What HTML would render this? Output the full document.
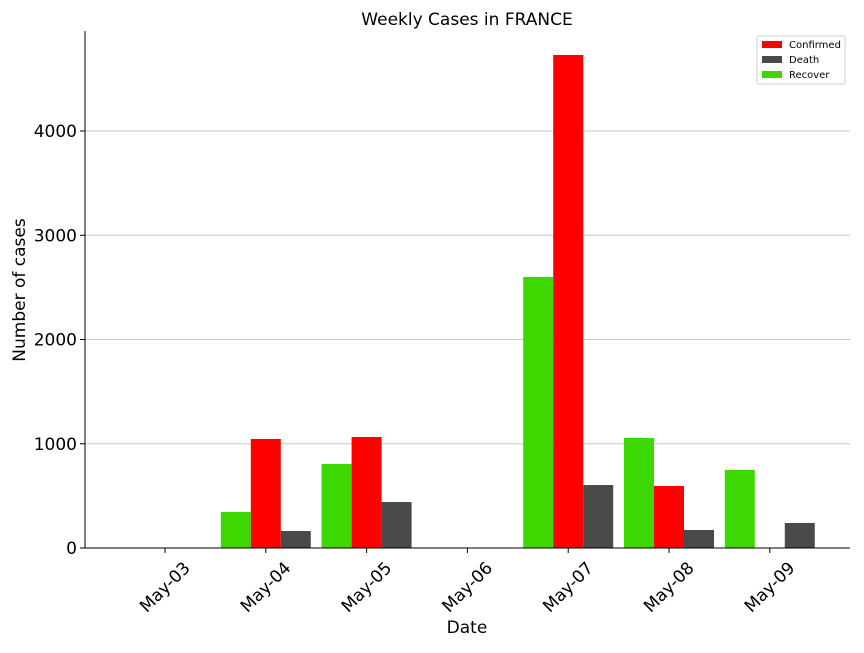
<!DOCTYPE html>
<html><head><meta charset="utf-8"><style>
body{margin:0;background:#fff;font-family:"Liberation Sans","DejaVu Sans",sans-serif;}
svg text{font-family:"DejaVu Sans","Liberation Sans",sans-serif;}
</style></head><body>
<svg id="chart" width="864" height="648">
<g id="grid"></g><g id="bars"></g><g id="axes"></g>
<text x="467" y="25" font-size="17" text-anchor="middle">Weekly Cases in FRANCE</text>
<text x="467" y="633" font-size="17" text-anchor="middle">Date</text>
<text x="25" y="290" font-size="17" text-anchor="middle" transform="rotate(-90 25 290)">Number of cases</text>
<g>
<rect x="757" y="36" width="88" height="48" fill="#fff" stroke="#ccc" rx="2"/>
<rect x="762" y="41" width="20" height="7" fill="#ff0000"/>
<text x="789" y="48" font-size="10">Confirmed</text>
<rect x="762" y="56" width="20" height="7" fill="#4a4a4a"/>
<text x="789" y="63" font-size="10">Death</text>
<rect x="762" y="71" width="20" height="7" fill="#3dd800"/>
<text x="789" y="78" font-size="10">Recover</text>
</g>
</svg>
<script>
const categories=["May-03","May-04","May-05","May-06","May-07","May-08","May-09"];
const recovered=[0,345,806,0,2600,1055,748];
const confirmed=[0,1046,1065,0,4729,595,0];
const deaths=[0,163,441,0,604,173,240];
const yTicks=[0,1000,2000,3000,4000];
const NS="http://www.w3.org/2000/svg";
const L=85,R=850,T=31,B=548;
const y=v=>B-v*(B-131)/4000;
const x=i=>165+i*100.8;
const bw=30;
function mk(tag,attrs,parent){const e=document.createElementNS(NS,tag);for(const k in attrs)e.setAttribute(k,attrs[k]);document.getElementById(parent).appendChild(e);return e;}
yTicks.forEach(t=>{
 if(t>0){const g=mk("line",{x1:L,x2:R,y1:y(t),y2:y(t),stroke:"#c8c8c8","stroke-width":1},"grid");
 
 }
 const tk=mk("line",{x1:L-5,x2:L,y1:y(t),y2:y(t),stroke:"#000"},"axes");
 
 
 const lb=mk("text",{x:L-8,y:y(t)+6,"font-size":17,"text-anchor":"end"},"axes");lb.textContent=t;
 
 
});
const series=[[recovered,"#3dd800",-bw,"recover"],[confirmed,"#ff0000",0,"confirmed"],[deaths,"#4a4a4a",bw,"death"]];
categories.forEach((c,i)=>{
 series.forEach(([arr,col,off,nm])=>{
  const v=arr[i];
  const r=mk("rect",{x:x(i)+off-bw/2,y:y(v),width:bw,height:B-y(v),fill:col},"bars");
  
  
 });
 const tk=mk("line",{x1:x(i),x2:x(i),y1:B,y2:B+5,stroke:"#000"},"axes");
 
 
 const lx=x(i)+26, ly=B+21;
 const lb=mk("text",{x:lx,y:ly,"font-size":17,"text-anchor":"end",transform:`rotate(-45 ${lx} ${ly})`},"axes");
 lb.textContent=c;
 
 
});
const ax1=mk("line",{x1:L,x2:L,y1:T,y2:B,stroke:"#000"},"axes");


const ax2=mk("line",{x1:L,x2:R,y1:B,y2:B,stroke:"#000"},"axes");


</script>
</body></html>
